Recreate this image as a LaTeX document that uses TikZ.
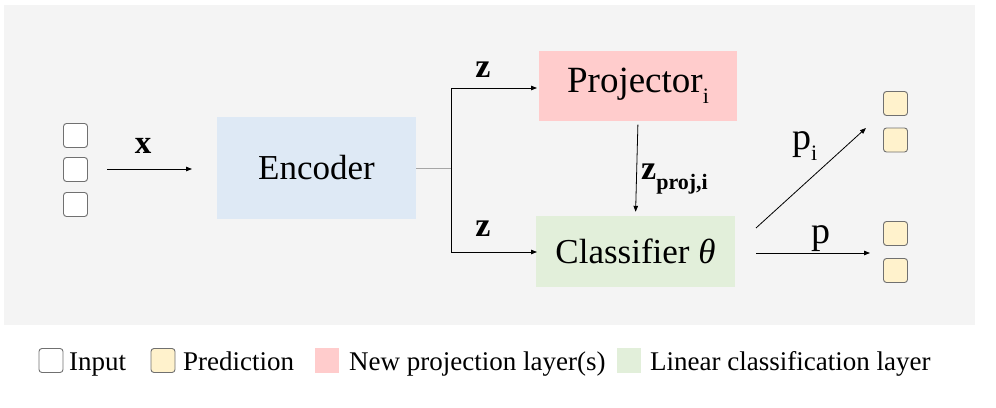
\documentclass[tikz,border=0pt]{standalone}
\usepackage{fontspec}
\setmainfont{Liberation Serif}
\usetikzlibrary{arrows.meta}
\definecolor{bgc}{HTML}{F4F4F4}
\definecolor{encc}{HTML}{DEE9F5}
\definecolor{projc}{HTML}{FFCCCC}
\definecolor{clsc}{HTML}{E2EFDA}
\definecolor{predc}{HTML}{FFF2CC}
\definecolor{sqborder}{HTML}{707070}
\newcommand{\fs}[1]{\fontsize{#1}{#1}\selectfont}
\newcommand{\lowsub}[1]{\raisebox{-0.3em}{\fs{22}#1}}
\tikzset{
  box/.style={draw=none, inner sep=0pt, font=\fs{35}},
  sq/.style={draw=sqborder, line width=0.9pt, rounded corners=3pt, minimum width=24pt, minimum height=24pt, inner sep=0pt},
  insq/.style={sq, fill=white},
  predsq/.style={sq, fill=predc},
  legsq/.style={draw=none, minimum width=24pt, minimum height=25pt, inner sep=0pt},
  arr/.style={-{Triangle[length=6pt,width=4.5pt]}, line width=0.8pt, black},
  lbl/.style={inner sep=0pt, anchor=base},
  legtxt/.style={inner sep=0pt, anchor=base west, font=\fs{27}}
}
\begin{document}
\begin{tikzpicture}[x=1pt,y=-1pt]
\useasboundingbox (0,0) rectangle (996,407);
\fill[bgc] (4,5) rectangle (975,325);
% inputs
\node[insq] (in1) at (75.5,135.5) {};
\node[insq] (in2) at (75.5,169.5) {};
\node[insq] (in3) at (75.5,204.5) {};
% boxes
\node[box, fill=encc, minimum width=199pt, minimum height=102pt] (enc) at (316.5,168) {Encoder};
\node[box, fill=projc, minimum width=198pt, minimum height=70pt, font=\fs{37}] (proj) at (638,85.5) {Projector\lowsub{i}};
\node[box, fill=clsc, minimum width=199pt, minimum height=71pt] (cls) at (635.5,251.5) {Classifier {\itshape θ}};
% predictions
\node[predsq] (pr1) at (895.5,103.5) {};
\node[predsq] (pr2) at (895.5,140) {};
\node[predsq] (pr3) at (895.5,233.5) {};
\node[predsq] (pr4) at (895.5,270.5) {};
% connectors
\coordinate (xs) at (107,169);
\coordinate (xe) at (192,169);
\draw[arr] (xs) -- (xe);
\node[lbl, font=\bfseries\fs{33}] (xl) at (143,153) {x};
\coordinate (split) at (451,168);
\draw[line width=0.8pt, gray!70] (enc.east) -- (split);
\coordinate (pt) at (537,88);
\coordinate (ct) at (537,252);
\draw[arr] (split) |- (pt);
\draw[arr] (split) |- (ct);
\node[lbl, font=\bfseries\fs{34}] (z1) at (483,77) {z};
\node[lbl, font=\bfseries\fs{34}] (z2) at (483,236) {z};
\draw[arr, shorten <=4pt, shorten >=4pt] (proj.south) -- (cls.north);
\node[inner sep=0pt, anchor=base west, font=\bfseries\fs{34}] (zp) at (641,179) {z\raisebox{-0.3em}{\fs{22}proj,i}};
\coordinate (pis) at (756,228);
\coordinate (pie) at (866,128);
\draw[arr] (pis) -- (pie);
\coordinate (ps) at (756,253);
\coordinate (pe) at (870,253);
\draw[arr] (ps) -- (pe);
\node[inner sep=0pt, anchor=base west, font=\fs{38}] (pil) at (792,149) {p\lowsub{i}};
\node[inner sep=0pt, anchor=base west, font=\fs{38}] (pl) at (811,243) {p};
% legend
\node[insq] (lg1) at (51,360.5) {};
\node[legtxt] (lt1) at (69,370) {Input};
\node[predsq] (lg2) at (163,360.5) {};
\node[legtxt] (lt2) at (183,370) {Prediction};
\node[legsq, fill=projc] (lg3) at (327,360.5) {};
\node[legtxt] (lt3) at (349,370) {New projection layer(s)};
\node[legsq, fill=clsc] (lg4) at (629,360.5) {};
\node[legtxt] (lt4) at (650,370) {Linear classification layer};
\end{tikzpicture}
\end{document}
